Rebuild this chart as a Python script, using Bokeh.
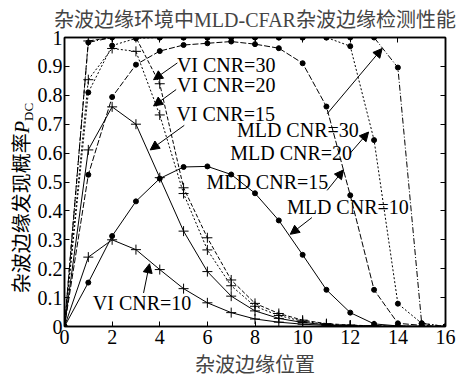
from bokeh.plotting import figure
from bokeh.models import Range1d, FixedTicker, LinearAxis, Label, Arrow, NormalHead, CustomJSTickFormatter, Div
from bokeh.layouts import row
from bokeh.embed import file_html
from bokeh.resources import INLINE

# ---------------- data ----------------
edge_pos = [0, 1, 2, 3, 4, 5, 6, 7, 8, 9, 10, 11, 12, 13, 14, 15, 16]
x_ticks = [0, 2, 4, 6, 8, 10, 12, 14, 16]
y_ticks = [0, 0.1, 0.2, 0.3, 0.4, 0.5, 0.6, 0.7, 0.8, 0.9, 1]

mld_cnr30 = [0, 0.983, 1, 1, 1, 1, 1, 1, 1, 1, 1, 1, 1, 1, 0.896, 0.011, 0]
mld_cnr20 = [0, 0.81, 0.972, 0.997, 1, 1, 1, 1, 1, 1, 1, 1, 0.97, 0.645, 0.079, 0.011, 0]
mld_cnr15 = [0, 0.525, 0.794, 0.906, 0.953, 0.974, 0.98, 0.986, 0.977, 0.963, 0.911, 0.761, 0.454, 0.127, 0.011, 0.004, 0]
mld_cnr10 = [0, 0.152, 0.313, 0.433, 0.512, 0.552, 0.554, 0.526, 0.461, 0.367, 0.248, 0.127, 0.048, 0.009, 0.002, 0.001, 0]

vi_cnr30 = [0, 0.988, 1, 1, 0.84, 0.48, 0.307, 0.161, 0.08, 0.045, 0.022, 0.01, 0.005, 0.002, 0.001, 0, 0]
vi_cnr20 = [0, 0.854, 0.962, 0.952, 0.732, 0.46, 0.265, 0.141, 0.07, 0.038, 0.018, 0.008, 0.004, 0.002, 0.001, 0, 0]
vi_cnr15 = [0, 0.611, 0.76, 0.70, 0.515, 0.33, 0.19, 0.105, 0.054, 0.028, 0.014, 0.006, 0.003, 0.001, 0, 0, 0]
vi_cnr10 = [0, 0.24, 0.30, 0.266, 0.197, 0.131, 0.082, 0.048, 0.026, 0.015, 0.008, 0.004, 0.002, 0.001, 0, 0, 0]

title_text = "杂波边缘环境中MLD-CFAR杂波边缘检测性能"
xlabel_text = "杂波边缘位置"
ylabel_main = "杂波边缘发现概率"
ylabel_sym = "P"
ylabel_sub = "DC"

# ---------------- styling ----------------
FONT = "Liberation Serif, Noto Sans CJK SC"
FS = "20px"

p = figure(width=431, height=378, output_backend="svg", toolbar_location=None,
           x_range=Range1d(0, 16), y_range=Range1d(0, 1),
           min_border_left=30, min_border_right=20, min_border_top=35, min_border_bottom=47)
p.background_fill_color = "white"
p.border_fill_color = "white"
p.grid.visible = False
p.outline_line_color = "black"
p.outline_line_width = 1.5

p.title.text = title_text
p.title.text_font = FONT
p.title.text_font_size = FS
p.title.text_font_style = "normal"
p.title.align = "center"
p.title.standoff = 13

for ax in (p.xaxis[0], p.yaxis[0]):
    ax.major_tick_in = 5
    ax.major_tick_out = 0
    ax.minor_tick_line_color = None
    ax.axis_line_width = 1.5
    ax.major_tick_line_width = 1
    ax.major_label_text_font = FONT
    ax.major_label_text_font_size = FS
    ax.major_label_text_color = "black"
    ax.axis_line_color = "black"
p.xaxis[0].ticker = FixedTicker(ticks=x_ticks)
p.yaxis[0].ticker = FixedTicker(ticks=y_ticks)
p.xaxis[0].major_label_standoff = 3
p.yaxis[0].major_label_standoff = 2
p.yaxis[0].formatter = CustomJSTickFormatter(code="return String(Math.round(tick*10)/10)")
p.xaxis[0].formatter = CustomJSTickFormatter(code="return String(Math.round(tick))")
p.xaxis[0].axis_label = xlabel_text
p.xaxis[0].axis_label_text_font = FONT
p.xaxis[0].axis_label_text_font_size = FS
p.xaxis[0].axis_label_text_font_style = "normal"
p.xaxis[0].axis_label_standoff = 7

blank = CustomJSTickFormatter(code="return ''")
top = LinearAxis(ticker=FixedTicker(ticks=x_ticks), formatter=blank, major_label_text_font_size="1px",
                 major_tick_in=5, major_tick_out=0, minor_tick_line_color=None,
                 axis_line_width=1.5, major_label_standoff=0)
right = LinearAxis(ticker=FixedTicker(ticks=y_ticks), formatter=blank, major_label_text_font_size="1px",
                   major_tick_in=5, major_tick_out=0, minor_tick_line_color=None,
                   axis_line_width=1.5, major_label_standoff=0)
p.add_layout(top, "above")
p.add_layout(right, "right")

# ---------------- series ----------------
def mld(y, dash):
    p.line(edge_pos, y, line_color="black", line_width=1, line_dash=dash)
    p.scatter(edge_pos, y, marker="circle", size=5, fill_color="black", line_color="black")

def vi(y, dash):
    p.line(edge_pos, y, line_color="black", line_width=1, line_dash=dash)
    p.scatter(edge_pos, y, marker="cross", size=10, line_color="black", line_width=1)

mld(mld_cnr10, "solid")
mld(mld_cnr15, "6 2")
mld(mld_cnr20, "2 2")
mld(mld_cnr30, "6 2 1 2")
vi(vi_cnr10, "solid")
vi(vi_cnr15, "solid")
vi(vi_cnr20, "2 2")
vi(vi_cnr30, "4 2")

# ---------------- annotations ----------------
ann_texts = ["VI CNR=30", "VI CNR=20", "VI CNR=15", "MLD CNR=30", "MLD CNR=20",
             "MLD CNR=15", "MLD CNR=10", "VI CNR=10"]
ann_xy = [(4.72, 0.905), (4.72, 0.837), (4.70, 0.735), (7.24, 0.679), (6.96, 0.600),
          (5.96, 0.499), (9.34, 0.415), (1.19, 0.082)]
arrow_geom = [((4.74, 0.912), (3.74, 0.854)),
              ((4.69, 0.820), (3.74, 0.763)),
              ((5.03, 0.696), (3.60, 0.611)),
              ((11.03, 0.736), (13.34, 0.962)),
              ((12.00, 0.600), (12.77, 0.673)),
              ((11.03, 0.471), (11.72, 0.542)),
              ((10.39, 0.377), (9.48, 0.319)),
              ((3.32, 0.116), (3.57, 0.217))]

for t, (tx, ty) in zip(ann_texts, ann_xy):
    p.add_layout(Label(x=tx, y=ty, text=t, text_font=FONT, text_font_size=FS,
                       text_align="left", text_baseline="middle", text_color="black"))
for (x0, y0), (x1, y1) in arrow_geom:
    p.add_layout(Arrow(x_start=x0, y_start=y0, x_end=x1, y_end=y1, line_width=1,
                       line_color="black",
                       end=NormalHead(size=9, fill_color="black", line_color="black", line_width=1)))

# y-axis label (with italic symbol and subscript) as HTML text
ylabel_html = (
    '<div style="position:relative;width:34px;height:378px;">'
    '<div style="position:absolute;left:22px;top:198px;transform:translate(-50%,-50%) rotate(-90deg);'
    "white-space:nowrap;font-family:'Liberation Serif','Noto Sans CJK SC',serif;font-size:20px;"
    'line-height:1;color:black;">'
    + ylabel_main + '<i>' + ylabel_sym + '</i>'
    '<span style="font-size:13px;position:relative;top:4px;">' + ylabel_sub + '</span>'
    '</div></div>'
)
ylab = Div(text=ylabel_html, width=34, height=378, margin=(0, 0, 0, 0))

layout = row(ylab, p, spacing=0)
open("out.html", "w").write(file_html(layout, INLINE))
